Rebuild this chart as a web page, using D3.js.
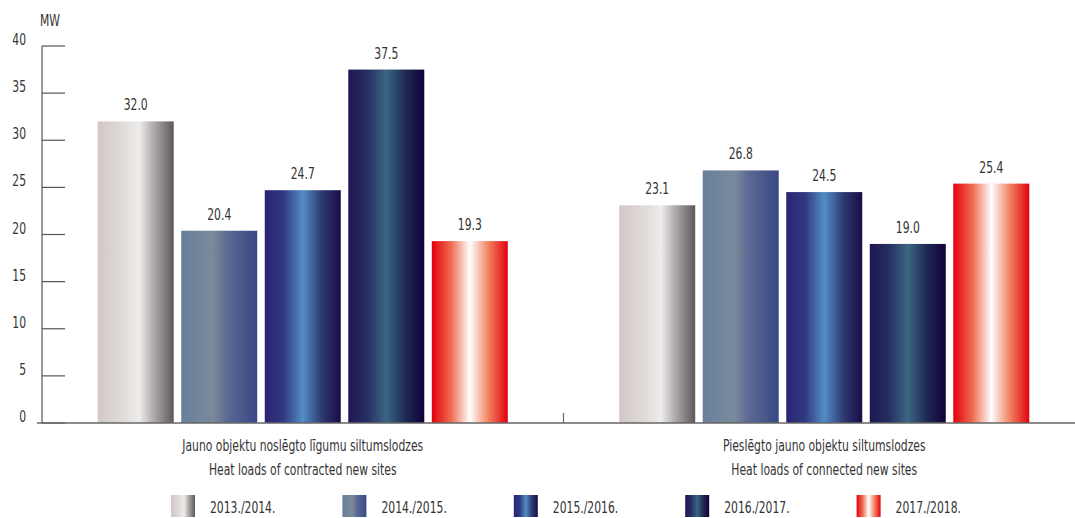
<!DOCTYPE html>
<html>
<head>
<meta charset="utf-8">
<script src="https://cdn.jsdelivr.net/npm/d3@7"></script>
<style>
  body { margin: 0; background: #fff; }
  text { font-family: 'Liberation Sans Narrow', 'DejaVu Sans Condensed', sans-serif; fill: #333; }
</style>
</head>
<body>
<svg width="1075" height="518"></svg>
<script>
var svg = d3.select('svg')

var categories = [
  ['Jauno objektu noslēgto līgumu siltumslodzes', 'Heat loads of contracted new sites'],
  ['Pieslēgto jauno objektu siltumslodzes', 'Heat loads of connected new sites']
]
var seasons = ['2013./2014.', '2014./2015.', '2015./2016.', '2016./2017.', '2017./2018.']
var contracted = [32.0, 20.4, 24.7, 37.5, 19.3]
var connected = [23.1, 26.8, 24.5, 19.0, 25.4]
var yTicks = [0, 5, 10, 15, 20, 25, 30, 35, 40]

// gradient stops per season: [offset, color]
var gradients = [
  [[0, '#d3c7c7'], [0.35, '#e0dcda'], [0.55, '#eeedeb'], [0.72, '#b3afaf'], [1, '#5e575a']],
  [[0, '#687f9c'], [0.42, '#7a8a9a'], [0.6, '#5c6a94'], [1, '#394785']],
  [[0, '#2a2373'], [0.25, '#303a80'], [0.5, '#548dc6'], [0.75, '#2d3a72'], [1, '#1b0b46']],
  [[0, '#1f1653'], [0.25, '#262e62'], [0.5, '#3b6682'], [0.75, '#1e2a52'], [1, '#13003a']],
  [[0, '#e3000f'], [0.25, '#ee6a4e'], [0.5, '#ffffff'], [0.75, '#f1805f'], [1, '#e3000f']]
]

var series = [contracted, connected]

var y = d3.scaleLinear().domain([0, 40]).range([423, 46])
var x0 = d3.scaleBand().domain(d3.range(categories.length)).range([42, 1085])
var x1 = d3.scaleBand()
  .domain(d3.range(seasons.length))
  .range([0, x0.bandwidth()])
  .paddingInner(0.09)
  .paddingOuter(0.667)

// condensed look: squeeze text horizontally
function label(parent, x, yy, str, anchor) {
  return parent.append('text')
    .attr('transform', 'translate(' + x + ',' + yy + ') scale(0.8,1)')
    .attr('text-anchor', anchor || 'start')
    .attr('font-size', 15)
    .text(str)
}

var defs = svg.append('defs')
gradients.forEach((stops, i) => {
  var g = defs.append('linearGradient')
    .attr('id', 'grad' + i)
    .attr('x1', '0%').attr('x2', '100%')
    .attr('y1', '0%').attr('y2', '0%')
  stops.forEach(s => {
    g.append('stop').attr('offset', s[0]).attr('stop-color', s[1])
  })
})

// y axis
svg.append('line')
  .attr('x1', 42).attr('x2', 42)
  .attr('y1', y(40)).attr('y2', y(0))
  .attr('stroke', '#333').attr('stroke-width', 1)

yTicks.forEach(t => {
  svg.append('line')
    .attr('x1', 42).attr('x2', 65)
    .attr('y1', y(t)).attr('y2', y(t))
    .attr('stroke', '#555').attr('stroke-width', 1.2)
  label(svg, 26, y(t) - 1, t, 'end')
})

label(svg, 40, 26, 'MW')

// bars
series.forEach((vals, ci) => {
  var g = svg.append('g').attr('transform', 'translate(' + x0(ci) + ',0)')
  g.selectAll('rect')
    .data(vals)
    .join('rect')
    .attr('x', (d, i) => x1(i))
    .attr('y', d => y(d))
    .attr('width', x1.bandwidth())
    .attr('height', d => y(0) - y(d))
    .attr('fill', (d, i) => 'url(#grad' + i + ')')
  vals.forEach((d, i) => {
    label(g, x1(i) + x1.bandwidth() / 2, y(d) - 11, d.toFixed(1), 'middle')
  })

  // category labels
  categories[ci].forEach((line, li) => {
    label(svg, x0(ci) + x0.bandwidth() / 2, 451 + li * 24, line, 'middle')
  })
})

// baseline and category separator tick
svg.append('line')
  .attr('x1', 37).attr('x2', 1075)
  .attr('y1', y(0)).attr('y2', y(0))
  .attr('stroke', '#666').attr('stroke-width', 1.5)
svg.append('line')
  .attr('x1', x0(1)).attr('x2', x0(1))
  .attr('y1', y(0) - 10).attr('y2', y(0))
  .attr('stroke', '#666').attr('stroke-width', 1.2)

// legend
var legend = svg.append('g')
seasons.forEach((s, i) => {
  var lx = 171 + i * 171.4
  legend.append('rect')
    .attr('x', lx).attr('y', 495)
    .attr('width', 24).attr('height', 22)
    .attr('fill', 'url(#grad' + i + ')')
  label(legend, lx + 39, 513, s)
})
</script>
</body>
</html>
